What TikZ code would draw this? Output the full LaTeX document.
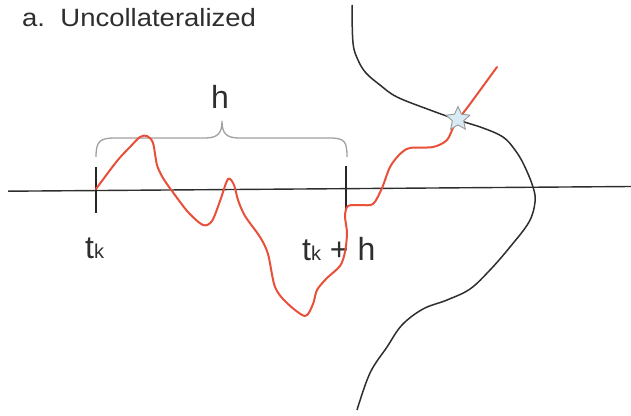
\documentclass[tikz,border=0pt]{standalone}
\usepackage{fontspec}
\usepackage{graphicx}
\setmainfont{Liberation Sans}
\usetikzlibrary{shapes.geometric}
\definecolor{pathred}{HTML}{E8503A}
\definecolor{inkgray}{HTML}{2E2E2E}
\definecolor{bracegray}{HTML}{A0A0A0}
\definecolor{starfill}{HTML}{D8EAF4}
\tikzset{
  axisline/.style={inkgray, line width=1.4pt},
  tickmark/.style={black!85, line width=2.6pt},
  redpath/.style={pathred, line width=2pt, line join=round, line cap=round},
  boundary/.style={inkgray, line width=1.5pt},
  bracestyle/.style={bracegray, line width=1.3pt},
  lbl/.style={inner sep=0pt, text=inkgray},
  starmark/.style={star, star points=5, star point ratio=2.1, minimum size=25pt, inner sep=0pt, fill=starfill, draw=gray!80, line width=0.9pt}
}
\begin{document}
\begin{tikzpicture}[x=1pt,y=-1pt]
\useasboundingbox (0,0) rectangle (631,415);
% title
\node[lbl, anchor=base west] (title) at (22,27) {\scalebox{1.1}[1]{\fontsize{25}{25}\selectfont a.\ \ Uncollateralized}};
% axis
\coordinate (axL) at (8,191.2);
\coordinate (axR) at (631,186.5);
\draw[axisline] (axL) -- (axR);
% ticks
\coordinate (t1top) at (96,167);
\coordinate (t1bot) at (96,213);
\coordinate (t2top) at (346,166);
\coordinate (t2bot) at (346,210);
\draw[tickmark] (t1top) -- (t1bot);
\draw[tickmark] (t2top) -- (t2bot);
% brace
\coordinate (brL) at (96,157);
\coordinate (brR) at (347,157);
\coordinate (brTip) at (222,121);
\draw[bracestyle] (brL) .. controls (96,141) and (100,138) .. (115,138) -- (205,138)
  .. controls (218,138) and (222,133) .. (brTip)
  .. controls (222,133) and (226,138) .. (239,138) -- (330,138)
  .. controls (345,138) and (347,142) .. (brR);
\node[lbl, anchor=base] (hlabel) at (220,108) {\fontsize{32}{32}\selectfont h};
% labels
\node[lbl, anchor=base west] (tklabel) at (85,258) {\fontsize{32}{32}\selectfont t{\fontsize{20}{20}\selectfont k}};
\node[lbl, anchor=base west] (tkhlabel) at (302,260) {\fontsize{32}{32}\selectfont t{\fontsize{20}{20}\selectfont k} + h};
% boundary curve
\draw[boundary] plot[smooth, tension=0.6] coordinates {
 (352,5) (353,43) (358,60) (366,73) (380,85) (397,97) (430,110) (458,120) (483,128)
 (503,137) (515,150) (524,165) (533,187) (535,202) (529,222) (510,247) (490,270)
 (470,289) (447,300) (423,309) (402,325) (387,347) (370,373) (357,410)};
% red path
\draw[redpath] plot[smooth, tension=0.5] coordinates {
 (96,189) (117,161) (130,147) (140,137) (147,136) (153,143) (157,165) (163,178)
 (172,191) (188,212) (203,225) (212,221) (220,201) (228,179) (234,185) (238,200)
 (245,216) (260,237) (268,254) (275,287) (287,303) (305,316) (313,304) (317,290)
 (327,278) (340,266) (345,252) (347,233) (345,216) (348,206) (360,205) (373,204)
 (382,188) (390,167) (400,154) (410,148) (433,147) (447,140) (455,124) (470,104) (497,67)};
% star
\node[starmark] (hit) at (458,119) {};
\end{tikzpicture}
\end{document}
